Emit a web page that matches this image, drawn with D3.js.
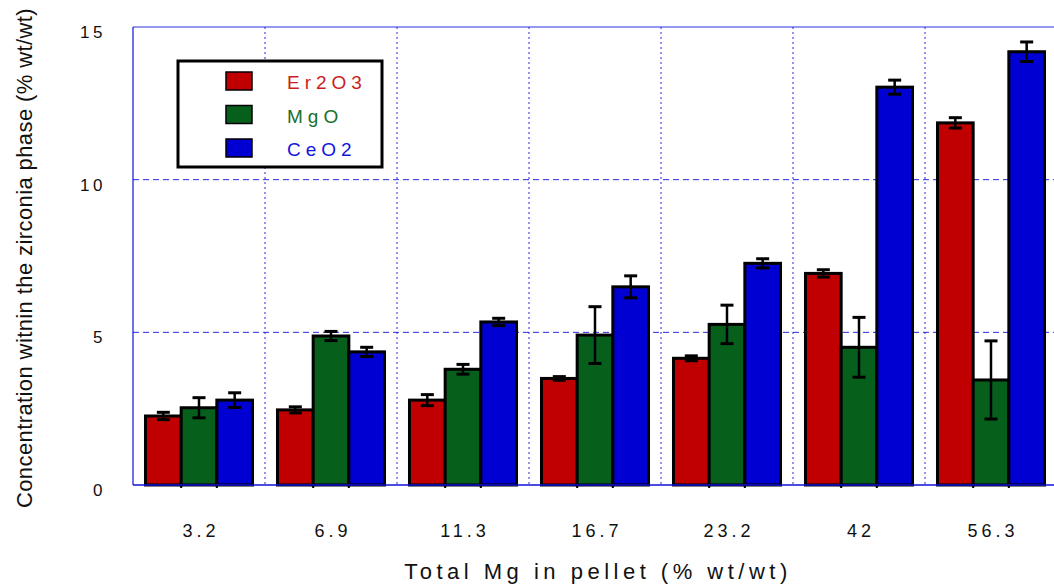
<!DOCTYPE html>
<html>
<head>
<meta charset="utf-8">
<script src="https://cdn.jsdelivr.net/npm/d3@7"></script>
<style>
  body { margin: 0; background: #fff; }
  text { font-family: "Liberation Sans", Arial, sans-serif; }
</style>
</head>
<body>
<div id="viz"></div>
<script>
// chart data
const categories = ["3.2", "6.9", "11.3", "16.7", "23.2", "42", "56.3"];
const seriesNames = ["Er2O3", "MgO", "CeO2"];
const er2o3 = [2.26, 2.46, 2.78, 3.49, 4.15, 6.93, 11.86];
const er2o3Err = [0.12, 0.1, 0.18, 0.06, 0.08, 0.12, 0.17];
const mgo = [2.53, 4.88, 3.79, 4.91, 5.26, 4.51, 3.44];
const mgoErr = [0.33, 0.15, 0.16, 0.93, 0.63, 0.98, 1.28];
const ceo2 = [2.78, 4.36, 5.34, 6.49, 7.26, 13.03, 14.19];
const ceo2Err = [0.24, 0.15, 0.12, 0.36, 0.15, 0.23, 0.32];
const yTicks = [0, 5, 10, 15];

const width = 1054, height = 586;
const plotLeft = 133, plotTop = 27, plotBottom = 485, plotRight = 1057;

const fills = ["#c00000", "#075f1c", "#0000d2"];
const textColors = ["#cc1c1c", "#18702c", "#1414dc"];

const values = [er2o3, mgo, ceo2];
const errs = [er2o3Err, mgoErr, ceo2Err];
const rows = [];
categories.forEach((c, i) => {
    seriesNames.forEach((s, j) => {
        rows.push({cat: c, series: s, idx: j, v: values[j][i], e: errs[j][i]});
    });
});

const svg = d3.select("#viz").append("svg")
    .attr("width", width)
    .attr("height", height);

const x = d3.scaleBand().domain(categories).range([plotLeft, plotRight]);
const xs = d3.scaleBand().domain(seriesNames).range([0, x.bandwidth()]).paddingOuter(0.35);
const y = d3.scaleLinear().domain([0, 15]).range([plotBottom, plotTop]);

// grid
const grid = svg.append("g");
grid.selectAll(".hg")
    .data([5, 10])
    .enter().append("line")
    .attr("x1", plotLeft).attr("x2", plotRight)
    .attr("y1", d => y(d)).attr("y2", d => y(d))
    .attr("stroke", "#2828e0")
    .attr("stroke-width", 1)
    .attr("stroke-dasharray", "6,4");
grid.selectAll(".vg")
    .data(categories.slice(1))
    .enter().append("line")
    .attr("x1", d => x(d)).attr("x2", d => x(d))
    .attr("y1", plotTop).attr("y2", plotBottom)
    .attr("stroke", "#2828e0")
    .attr("stroke-width", 1)
    .attr("stroke-dasharray", "2,3");

// frame
svg.append("line").attr("x1", plotLeft).attr("x2", plotRight).attr("y1", plotTop).attr("y2", plotTop)
    .attr("stroke", "#3030e0").attr("stroke-width", 1.2);
svg.append("line").attr("x1", plotLeft).attr("x2", plotLeft).attr("y1", plotTop).attr("y2", plotBottom)
    .attr("stroke", "#1010d8").attr("stroke-width", 1.2);

// bars
const groups = svg.append("g").selectAll("g")
    .data(rows)
    .enter().append("g")
    .attr("transform", d => `translate(${x(d.cat) + xs(d.series)},0)`);

groups.append("rect")
    .attr("x", 0)
    .attr("y", d => y(d.v))
    .attr("width", xs.bandwidth())
    .attr("height", d => y(0) - y(d.v))
    .attr("fill", d => fills[d.idx])
    .attr("stroke", "#000")
    .attr("stroke-width", 3);

// little ticks under the axis at bar joins
groups.filter(d => d.idx > 0).append("line")
    .attr("x1", 0).attr("x2", 0)
    .attr("y1", plotBottom).attr("y2", plotBottom + 3)
    .attr("stroke", "#000").attr("stroke-width", 2);

// error bars
const bw = xs.bandwidth();
groups.append("line")
    .attr("x1", bw / 2).attr("x2", bw / 2)
    .attr("y1", d => y(d.v + d.e)).attr("y2", d => y(d.v - d.e))
    .attr("stroke", "#000").attr("stroke-width", 2.5);
groups.selectAll(".cap")
    .data(d => [d.v + d.e, d.v - d.e])
    .enter().append("line")
    .attr("x1", bw / 2 - 6.5).attr("x2", bw / 2 + 6.5)
    .attr("y1", d => y(d)).attr("y2", d => y(d))
    .attr("stroke", "#000").attr("stroke-width", 3);

// bottom axis line
svg.append("line").attr("x1", plotLeft).attr("x2", plotRight).attr("y1", plotBottom).attr("y2", plotBottom)
    .attr("stroke", "#1010d8").attr("stroke-width", 1.5);

// y tick labels
svg.append("g").selectAll("text")
    .data(yTicks)
    .enter().append("text")
    .attr("x", 106)
    .attr("y", d => y(d) + 11)
    .attr("text-anchor", "end")
    .attr("font-size", 17)
    .attr("letter-spacing", "3.5px")
    .attr("fill", "#111")
    .text(d => d);

// x tick labels
svg.append("g").selectAll("text")
    .data(categories)
    .enter().append("text")
    .attr("x", d => x(d) + x.bandwidth() / 2 + 2)
    .attr("y", 537)
    .attr("text-anchor", "middle")
    .attr("font-size", 18)
    .attr("letter-spacing", "4px")
    .attr("fill", "#111")
    .text(d => d);

// axis titles
svg.append("text")
    .attr("x", (plotLeft + plotRight) / 2 + 3)
    .attr("y", 579)
    .attr("text-anchor", "middle")
    .attr("font-size", 22)
    .attr("letter-spacing", "4.5px")
    .attr("fill", "#111")
    .text("Total Mg in pellet (% wt/wt)");

svg.append("text")
    .attr("transform", "translate(32,258) rotate(-90)")
    .attr("text-anchor", "middle")
    .attr("font-size", 22)
    .attr("letter-spacing", "0.4px")
    .attr("fill", "#111")
    .text("Concentration witnin the zirconia phase (% wt/wt)");

// legend
const legend = svg.append("g");
legend.append("rect")
    .attr("x", 178).attr("y", 61)
    .attr("width", 204).attr("height", 106)
    .attr("fill", "#fff")
    .attr("stroke", "#000").attr("stroke-width", 3);
const li = legend.selectAll(".li")
    .data(seriesNames)
    .enter().append("g")
    .attr("transform", (d, i) => `translate(0,${81 + i * 33.5})`);
li.append("rect")
    .attr("x", 226).attr("y", -9)
    .attr("width", 26).attr("height", 18)
    .attr("fill", (d, i) => fills[i])
    .attr("stroke", "#000").attr("stroke-width", 1.5);
li.append("text")
    .attr("x", 287).attr("y", 8)
    .attr("font-size", 19)
    .attr("letter-spacing", "5px")
    .attr("fill", (d, i) => textColors[i])
    .text(d => d);
</script>
</body>
</html>
